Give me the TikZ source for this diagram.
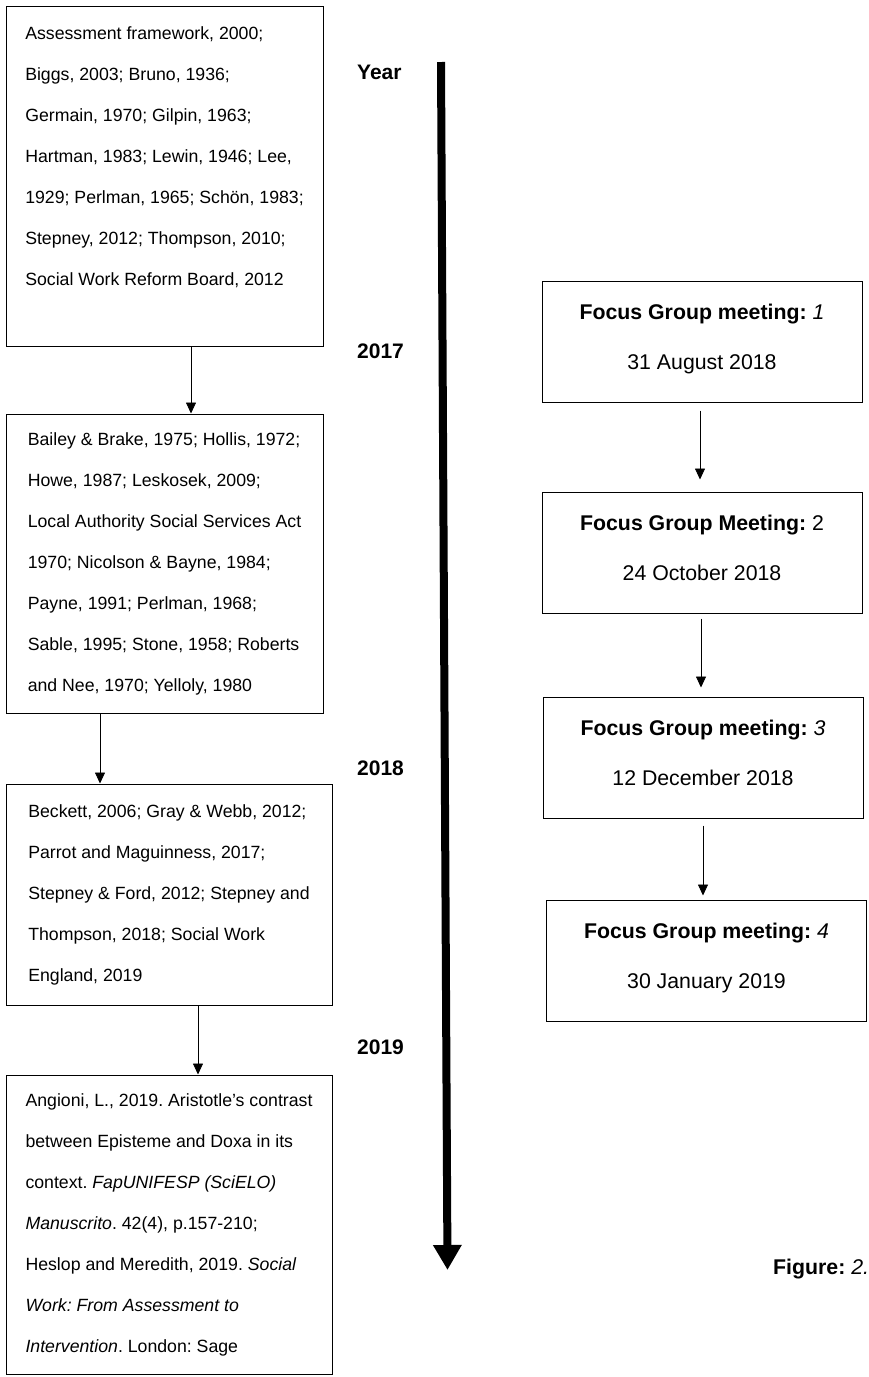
\documentclass[tikz,border=0pt]{standalone}
\usepackage{fontspec}
\setmainfont{Liberation Sans}
\usepackage{tikz}
\usetikzlibrary{arrows.meta}
\frenchspacing

\begin{document}
\begin{tikzpicture}[x=1pt,y=-1pt]
\tikzstyle{ref}=[draw,line width=1pt,align=left,inner sep=0pt,font=\fontsize{17.7pt}{41pt}\selectfont]
\tikzstyle{meet}=[draw,line width=1pt,align=center,inner sep=0pt,minimum width=320pt,minimum height=121pt,text depth=10pt,font=\fontsize{21.3pt}{50pt}\selectfont]
\tikzstyle{year}=[anchor=base west,inner sep=0pt,font=\fontsize{21pt}{25pt}\selectfont\bfseries]
\tikzstyle{link}=[line width=0.8pt,-{Triangle[width=10pt,length=11pt]}]
\useasboundingbox (0,0) rectangle (869,1377);
% literature, left column
\node[ref,minimum width=317pt,minimum height=340pt,text depth=39pt] (r1) at (164.5,176) {Assessment framework, 2000;\\Biggs, 2003; Bruno, 1936;\\Germain, 1970; Gilpin, 1963;\\Hartman, 1983; Lewin, 1946; Lee,\\1929; Perlman, 1965; Schön, 1983;\\Stepney, 2012; Thompson, 2010;\\Social Work Reform Board, 2012};
\node[ref,minimum width=317pt,minimum height=299pt] (r2) at (164.5,563.5) {Bailey \& Brake, 1975; Hollis, 1972;\\Howe, 1987; Leskosek, 2009;\\Local Authority Social Services Act\\1970; Nicolson \& Bayne, 1984;\\Payne, 1991; Perlman, 1968;\\Sable, 1995; Stone, 1958; Roberts\\and Nee, 1970; Yelloly, 1980};
\node[ref,minimum width=326pt,minimum height=221pt] (r3) at (169,894.5) {Beckett, 2006; Gray \& Webb, 2012;\\Parrot and Maguinness, 2017;\\Stepney \& Ford, 2012; Stepney and\\Thompson, 2018; Social Work\\England, 2019};
\node[ref,minimum width=326pt,minimum height=299pt] (r4) at (169,1224.5) {Angioni, L., 2019. Aristotle’s contrast\\between Episteme and Doxa in its\\context. \textit{FapUNIFESP (SciELO)}\\\textit{Manuscrito}. 42(4), p.157-210;\\Heslop and Meredith, 2019. \textit{Social}\\\textit{Work: From Assessment to}\\\textit{Intervention}. London: Sage};
\draw[link] ([xshift=26.5pt]r1.south) -- ([xshift=26.5pt]r1.south |- r2.north);
\draw[link] ([xshift=-64.5pt]r2.south) -- ([xshift=-64.5pt]r2.south |- r3.north);
\draw[link] ([xshift=29pt]r3.south) -- ([xshift=29pt]r3.south |- r4.north);
% time line
\node[year] (y0) at (357,79) {Year};
\node[year] (y1) at (357,358) {2017};
\node[year] (y2) at (357,775) {2018};
\node[year] (y3) at (357,1054) {2019};
\coordinate (t0) at (441,62);
\coordinate (t1) at (447.5,1270);
\draw[line width=8pt,-{Triangle[width=27pt,length=25pt]}] (t0) -- (t1);
% focus groups, right column
\node[meet] (m1) at (702,341.5) {\textbf{Focus Group meeting:} \textit{1}\\31 August 2018};
\node[meet] (m2) at (702,552.5) {\textbf{Focus Group Meeting:} 2\\24 October 2018};
\node[meet] (m3) at (703,757.5) {\textbf{Focus Group meeting:} \textit{3}\\12 December 2018};
\node[meet] (m4) at (706.5,960.5) {\textbf{Focus Group meeting:} \textit{4}\\30 January 2019};
\draw[link,shorten <=8pt,shorten >=12pt] ([xshift=-2pt]m1.south) -- ([xshift=-2pt]m1.south |- m2.north);
\draw[link,shorten <=5pt,shorten >=9pt] ([xshift=-1pt]m2.south) -- ([xshift=-1pt]m2.south |- m3.north);
\draw[link,shorten <=7pt,shorten >=4pt] (m3.south) -- (m3.south |- m4.north);
\node[anchor=base west,inner sep=0pt,font=\fontsize{21.3pt}{25pt}\selectfont] (fig) at (773,1274) {\textbf{Figure:} \textit{2.}};
\end{tikzpicture}
\end{document}
